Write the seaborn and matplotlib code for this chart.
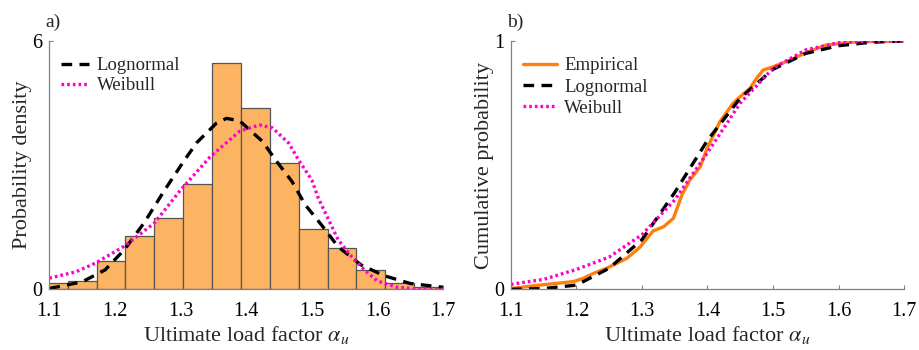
import numpy as np
import pandas as pd
import matplotlib
matplotlib.use("Agg")
import matplotlib.pyplot as plt
import seaborn as sns

# ---------------- data ----------------
bin_edges = [1.084, 1.128, 1.172, 1.216, 1.260, 1.304, 1.348, 1.392,
             1.436, 1.480, 1.524, 1.568, 1.612, 1.656, 1.700]
bar_heights = [0.16, 0.21, 0.68, 1.30, 1.72, 2.55, 5.47, 4.37,
               3.04, 1.45, 1.00, 0.46, 0.16, 0.05]

logn_pdf_x = [1.10, 1.15, 1.185, 1.215, 1.245, 1.275, 1.305, 1.325, 1.355, 1.37,
              1.39, 1.425, 1.445, 1.47, 1.49, 1.515, 1.54, 1.575, 1.61, 1.65, 1.70]
logn_pdf_y = [0.02, 0.18, 0.47, 0.97, 1.62, 2.38, 3.10, 3.55, 4.02, 4.13,
              4.07, 3.57, 3.12, 2.60, 2.04, 1.55, 1.03, 0.59, 0.33, 0.14, 0.05]

weib_pdf_x = [1.10, 1.14, 1.17, 1.215, 1.26, 1.30, 1.345, 1.39, 1.42, 1.44, 1.465,
              1.48, 1.50, 1.51, 1.525, 1.54, 1.56, 1.58, 1.60, 1.63, 1.66, 1.70]
weib_pdf_y = [0.27, 0.42, 0.63, 1.05, 1.60, 2.40, 3.20, 3.82, 3.97, 3.90, 3.53,
              3.12, 2.64, 2.20, 1.70, 1.20, 0.80, 0.47, 0.20, 0.05, 0.01, 0.0]

emp_cdf_x = [1.10, 1.144, 1.195, 1.21, 1.226, 1.246, 1.277, 1.297, 1.317, 1.333,
             1.348, 1.361, 1.373, 1.389, 1.399, 1.414, 1.419, 1.439, 1.45, 1.465,
             1.475, 1.485, 1.50, 1.526, 1.551, 1.582, 1.628, 1.70]
emp_cdf_y = [0.003, 0.017, 0.031, 0.044, 0.064, 0.085, 0.125, 0.17, 0.235, 0.252,
             0.286, 0.38, 0.44, 0.494, 0.565, 0.648, 0.675, 0.749, 0.776, 0.81,
             0.85, 0.883, 0.896, 0.923, 0.954, 0.984, 0.997, 1.0]

logn_cdf_x = [1.10, 1.15, 1.20, 1.25, 1.30, 1.35, 1.40, 1.45, 1.50, 1.55, 1.60, 1.65, 1.70]
logn_cdf_y = [0.0, 0.003, 0.017, 0.085, 0.20, 0.39, 0.60, 0.77, 0.886, 0.95, 0.981, 0.995, 1.0]

weib_cdf_x = [1.10, 1.15, 1.20, 1.25, 1.30, 1.35, 1.40, 1.45, 1.50, 1.55, 1.60, 1.65, 1.70]
weib_cdf_y = [0.02, 0.04, 0.08, 0.13, 0.22, 0.36, 0.55, 0.75, 0.89, 0.964, 0.993, 1.0, 1.0]

x_ticks = [1.1, 1.2, 1.3, 1.4, 1.5, 1.6, 1.7]

# ---------------- style ----------------
sns.set_style("ticks")
plt.rcParams['font.family'] = ['Liberation Serif', 'DejaVu Serif']
plt.rcParams['mathtext.fontset'] = 'stix'

BAR_COLOR = '#FDB462'
EMP_COLOR = '#FF7F0E'
WEIB_COLOR = '#FF00CC'
GRAY = '#808080'

fig = plt.figure(figsize=(9.19, 3.5), dpi=100)
ax1 = fig.add_axes([0.0537, 0.1734, 0.4284, 0.7095])
ax2 = fig.add_axes([0.556, 0.1734, 0.4277, 0.7095])

# ---- panel a ----
centers = [(a + b) / 2 for a, b in zip(bin_edges[:-1], bin_edges[1:])]
hist_df = pd.DataFrame({'x': centers, 'w': bar_heights})
sns.histplot(data=hist_df, x='x', weights='w', bins=bin_edges, stat='count',
             color=BAR_COLOR, alpha=1.0, edgecolor='#555555', linewidth=0.9, ax=ax1)
sns.lineplot(x=logn_pdf_x, y=logn_pdf_y, ax=ax1, color='black', lw=2.4,
             label='Lognormal', sort=False)
sns.lineplot(x=weib_pdf_x, y=weib_pdf_y, ax=ax1, color=WEIB_COLOR, lw=2.4,
             label='Weibull', sort=False)
ax1.lines[0].set_dashes((3.2, 2.2))
ax1.lines[1].set_dashes((0.8, 0.9))
ax1.set_xlim(1.1, 1.7)
ax1.set_ylim(0, 6)
ax1.set_yticks([0, 6])
ax1.set_ylabel('Probability density', fontsize=16, labelpad=0)

# ---- panel b ----
sns.lineplot(x=emp_cdf_x, y=emp_cdf_y, ax=ax2, color=EMP_COLOR, lw=2.4,
             label='Empirical', sort=False)
sns.lineplot(x=logn_cdf_x, y=logn_cdf_y, ax=ax2, color='black', lw=2.4,
             label='Lognormal', sort=False)
sns.lineplot(x=weib_cdf_x, y=weib_cdf_y, ax=ax2, color=WEIB_COLOR, lw=2.4,
             label='Weibull', sort=False)
ax2.lines[1].set_dashes((3.2, 2.2))
ax2.lines[2].set_dashes((0.8, 0.9))
ax2.set_xlim(1.1, 1.7)
ax2.set_ylim(0, 1)
ax2.set_yticks([0, 1])
ax2.set_ylabel('Cumulative probability', fontsize=16, labelpad=0)

for ax, lsp, hl in ((ax1, 0.15, 1.5), (ax2, 0.22, 1.8)):
    ax.set_xticks(x_ticks)
    ax.set_xticklabels([f'{t:.1f}' for t in x_ticks])
    ax.set_xlabel(r'Ultimate load factor $\alpha_u$', fontsize=16, labelpad=2.5)
    for s in ('top', 'right'):
        ax.spines[s].set_visible(False)
    for s in ('left', 'bottom'):
        ax.spines[s].set_color(GRAY)
        ax.spines[s].set_linewidth(0.9)
    ax.tick_params(direction='in', length=3, color=GRAY, width=0.8,
                   labelsize=14.5, labelcolor='black')
    ax.tick_params(axis='x', pad=9)
    ax.tick_params(axis='y', pad=5)
    ax.legend(loc='upper left', bbox_to_anchor=(0.03, 0.935), frameon=False,
              fontsize=13.5, handlelength=hl, handletextpad=0.4,
              borderaxespad=0, borderpad=0, labelspacing=lsp)

fig.text(45 / 919, 1 - 22 / 350, 'a)', fontsize=14, va='center', ha='left')
fig.text(507 / 919, 1 - 22 / 350, 'b)', fontsize=14, va='center', ha='left')

fig.savefig('out.png', dpi=100)
